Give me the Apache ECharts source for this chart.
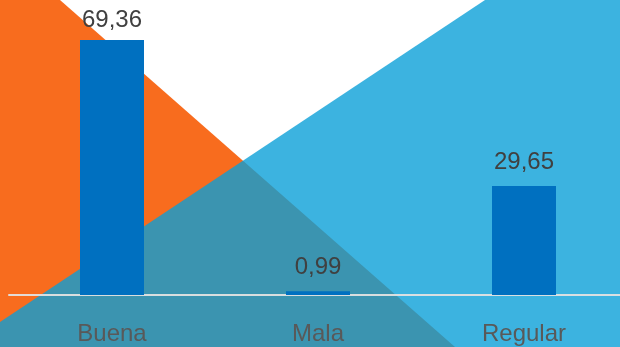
<!DOCTYPE html>
<html>
<head>
<meta charset="utf-8">
<script src="https://cdn.jsdelivr.net/npm/echarts@6/dist/echarts.min.js"></script>
<style>
  html, body { margin: 0; padding: 0; background: #ffffff; }
  #chart { width: 620px; height: 347px; }
</style>
</head>
<body>
<div id="chart"></div>
<script>
// Opinion categories and their percentages
const categories = ['Buena', 'Mala', 'Regular'];
const percentages = [69.36, 0.99, 29.65];

const chart = echarts.init(document.getElementById('chart'), null, { renderer: 'canvas' });

const fmt = v => v.toFixed(2).replace('.', ',');

// The tallest bar's label sits a little closer to the bar so it stays on the canvas
const maxVal = Math.max(...percentages);
const barData = percentages.map(v => ({
  value: v,
  label: { distance: v === maxVal ? 8 : 12 }
}));

chart.setOption({
  animation: false,
  backgroundColor: '#ffffff',
  graphic: [
    {
      type: 'polygon',
      z: -20,
      silent: true,
      shape: { points: [[0, 0], [60, 0], [455, 347], [0, 347]] },
      style: { fill: '#F86C1E' }
    },
    {
      type: 'polygon',
      z: -19,
      silent: true,
      shape: { points: [[0, 322], [485, 0], [620, 0], [620, 347], [0, 347]] },
      style: { fill: 'rgb(7,159,216)', opacity: 0.79 }
    }
  ],
  grid: {
    left: 9, top: 1, width: 618, bottom: 52,
    containLabel: false,
    outerBoundsMode: 'none'
  },
  xAxis: {
    type: 'category',
    data: categories,
    axisTick: { show: false },
    axisLine: { show: true, lineStyle: { color: 'rgba(225,225,225,0.95)', width: 2 } },
    axisLabel: {
      color: '#595959',
      fontSize: 24,
      fontFamily: 'Liberation Sans, Arial, sans-serif',
      margin: 27
    }
  },
  yAxis: {
    type: 'value',
    min: 0,
    max: 80,
    show: false,
    splitLine: { show: false }
  },
  series: [{
    type: 'bar',
    data: barData,
    barWidth: 64,
    itemStyle: { color: '#0070C0' },
    label: {
      show: true,
      position: 'top',
      color: '#404040',
      fontSize: 24,
      fontFamily: 'Liberation Sans, Arial, sans-serif',
      formatter: p => fmt(p.value)
    }
  }]
});
</script>
</body>
</html>
